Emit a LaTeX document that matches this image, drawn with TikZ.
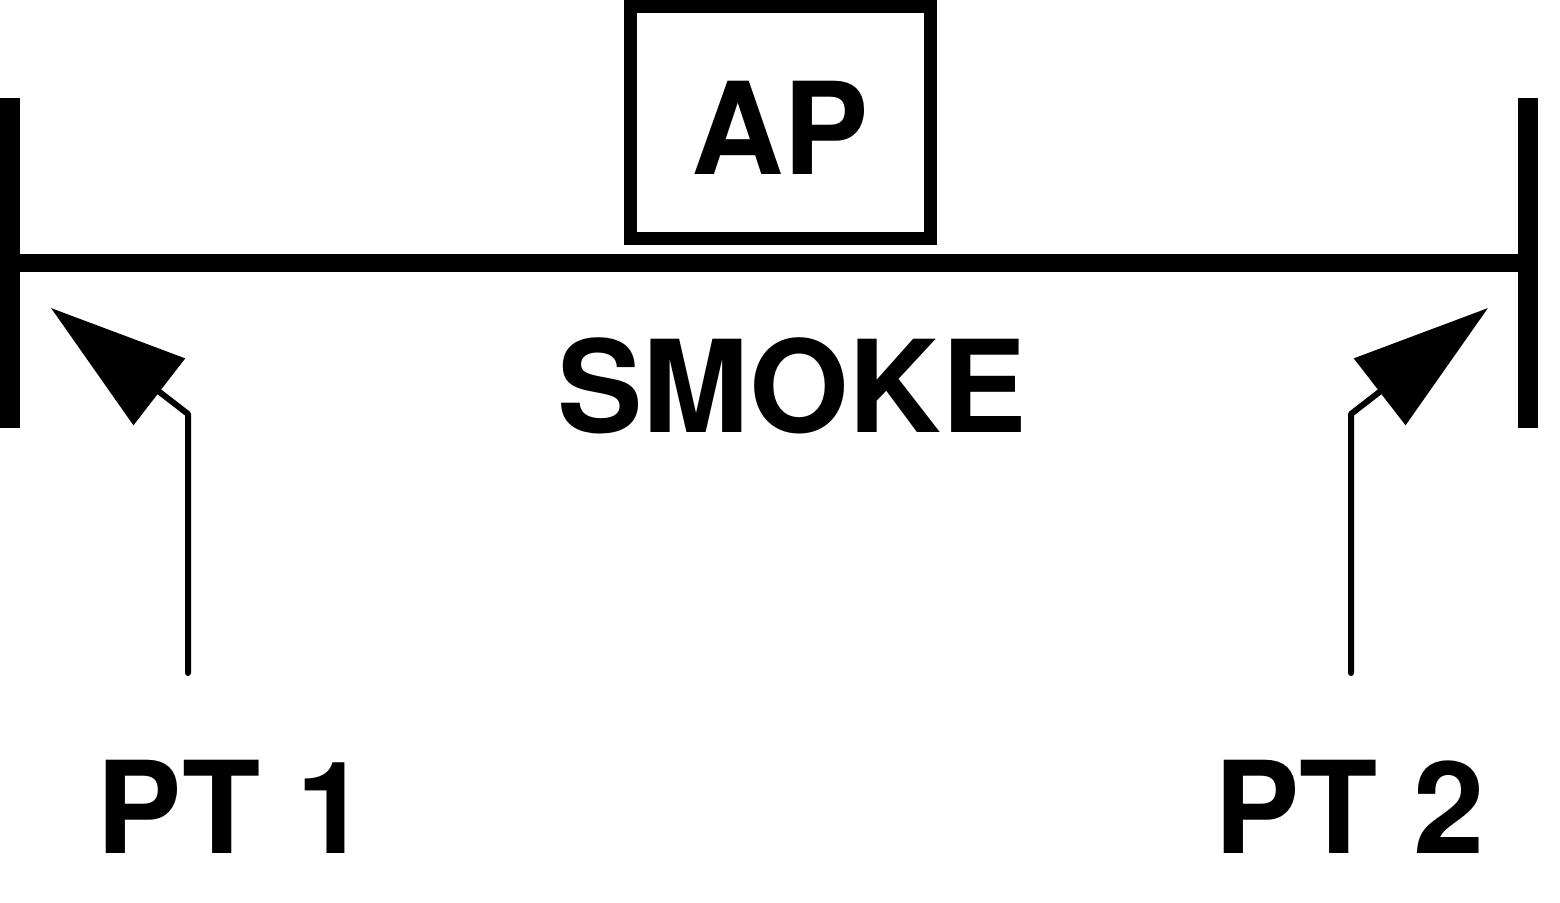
\documentclass[tikz,border=0pt]{standalone}
\usepackage{fontspec}
\setmainfont{TeX Gyre Heros}
\usetikzlibrary{arrows.meta}
\begin{document}
\begin{tikzpicture}[x=0.5pt,y=-0.5pt,
  lbl/.style={font=\bfseries\fontsize{64}{70}\selectfont, inner sep=0pt, anchor=base},
  bar/.style={line width=10pt, line cap=butt},
  pipe/.style={line width=9pt},
  probe/.style={line width=3pt, line cap=round, line join=round,
    -{Triangle[length=68.5pt,width=41.5pt]}},
  apbox/.style={draw, line width=6.5pt, minimum width=150.25pt, minimum height=115.75pt, inner sep=0pt}]
\useasboundingbox (0,0) rectangle (1560,902);
% walls
\coordinate (lwt) at (10,98);  \coordinate (lwb) at (10,428);
\coordinate (rwt) at (1528,98); \coordinate (rwb) at (1528,428);
\draw[bar] (lwt) -- (lwb);
\draw[bar] (rwt) -- (rwb);
% duct line
\coordinate (dl) at (20,263); \coordinate (dr) at (1518,263);
\draw[pipe] (dl) -- (dr);
% AP box
\node[apbox] (ap) at (780.25,122.25) {};
\node[lbl] (aptext) at (780,174) {AP};
% SMOKE
\node[lbl] (smoke) at (792,432) {SMOKE};
% probes
\coordinate (p1b) at (188,673); \coordinate (p1c) at (188,414); \coordinate (p1t) at (51,308);
\coordinate (p2b) at (1351,673); \coordinate (p2c) at (1351,414); \coordinate (p2t) at (1488,308);
\draw[probe] (p1b) -- (p1c) -- (p1t);
\draw[probe] (p2b) -- (p2c) -- (p2t);
% labels
\node[lbl] (pt1) at (232,853) {PT 1};
\node[lbl] (pt2) at (1349.5,853) {PT 2};
\end{tikzpicture}
\end{document}
